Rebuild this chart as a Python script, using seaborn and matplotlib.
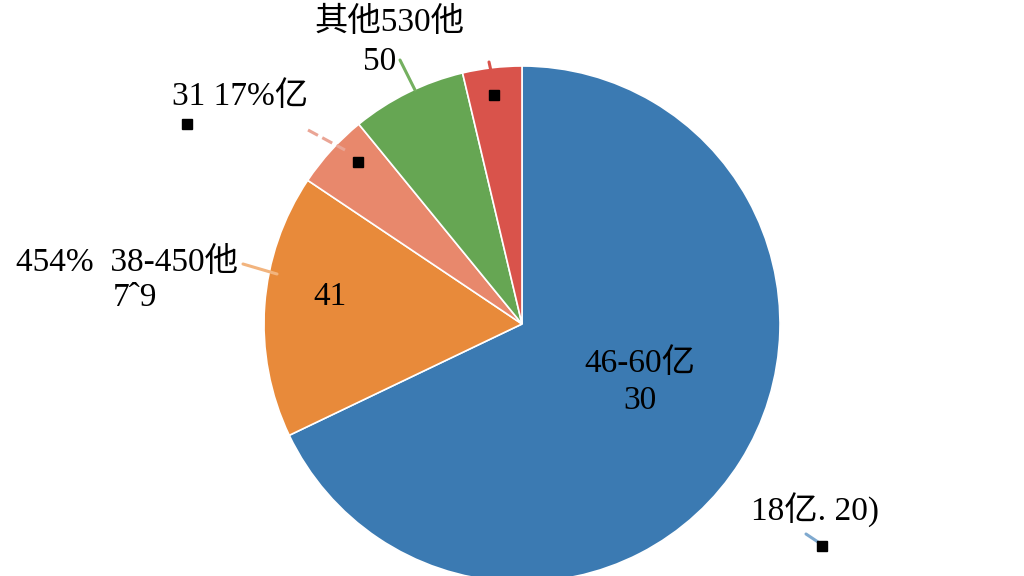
import matplotlib.pyplot as plt
import seaborn as sns

# Data (shares, clockwise from 12 o'clock)
categories = ["46-60岁", "38-45岁", "31-37岁", "其他", "18-30岁"]
shares = [67.9, 16.5, 4.7, 7.2, 3.7]
colors = ["#3b7ab2", "#e88a3a", "#e8886c", "#66a653", "#d9534b"]

# Label texts as they appear on the chart
inner_labels = ["46-60亿\n30", "41", "", "", ""]
outer_labels = ["18亿. 20)", "454%  38-450他\n7ˆ9", "31 17%亿", "其他530他\n50", ""]

sns.set_theme(style="white")
plt.rcParams["font.family"] = ["Liberation Serif", "Noto Sans CJK SC", "DejaVu Sans"]
plt.rcParams["text.color"] = "black"

W, H = 1024, 576
fig = plt.figure(figsize=(W / 100, H / 100), dpi=100)
ax = fig.add_axes([0, 0, 1, 1])

cx, cy, r = 522, H - 324, 258
wedges, _ = ax.pie(
    shares,
    colors=colors,
    startangle=90,
    counterclock=False,
    center=(cx, cy),
    radius=r,
    wedgeprops=dict(edgecolor="white", linewidth=1.2),
)
ax.set_xlim(0, W)
ax.set_ylim(0, H)
ax.axis("off")

fs = 24


def px(x, y):
    return x, H - y


# inner labels
ax.text(*px(640, 382), inner_labels[0], ha="center", va="center", fontsize=fs, linespacing=1.25)
ax.text(*px(330, 297), inner_labels[1], ha="center", va="center", fontsize=fs)

# outer labels
ax.text(*px(815, 510), outer_labels[0], ha="center", va="center", fontsize=fs)
ax.text(*px(127, 262), outer_labels[1].split("\n")[0], ha="center", va="center", fontsize=fs)
ax.text(*px(135, 298), outer_labels[1].split("\n")[1], ha="center", va="center", fontsize=fs)
ax.text(*px(240, 97), outer_labels[2], ha="center", va="center", fontsize=fs)
ax.text(*px(390, 22), outer_labels[3].split("\n")[0], ha="center", va="center", fontsize=fs)
ax.text(*px(380, 62), outer_labels[3].split("\n")[1], ha="center", va="center", fontsize=fs)

# leader lines
leaders = [
    ((806, 534), (818, 542), "#7fa9cf", "-"),
    ((243, 264), (277, 274), "#f2b47e", "-"),
    ((308, 130), (345, 150), "#eaa595", "--"),
    ((400, 60), (415, 90), "#74b060", "-"),
    ((489, 62), (491, 71), "#d9534b", "-"),
]
for (x0, y0), (x1, y1), c, ls in leaders:
    ax.plot([x0, x1], [H - y0, H - y1], color=c, lw=2.2, ls=ls, solid_capstyle="round")

# black square markers
for x, y in [(187, 124), (358, 162), (494, 95), (822, 546)]:
    ax.plot(x, H - y, marker="s", color="black", markersize=6.5)

plt.savefig("out.png", dpi=100)
